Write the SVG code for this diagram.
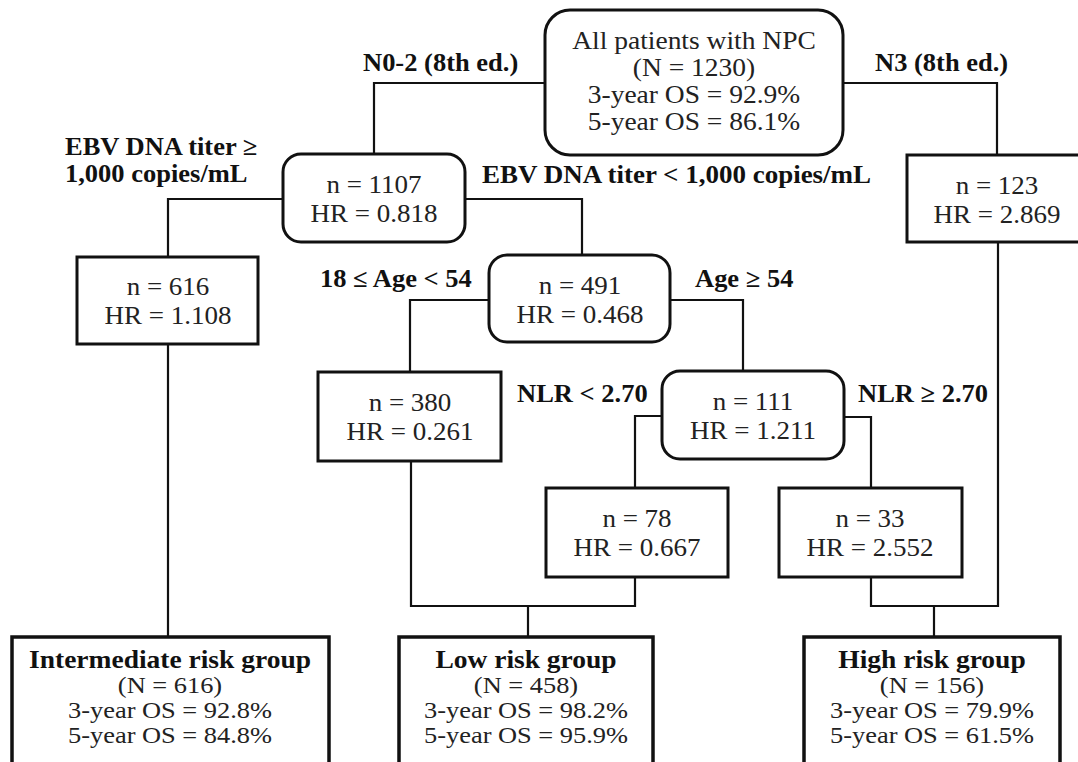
<svg xmlns="http://www.w3.org/2000/svg" width="1078" height="762" viewBox="0 0 1078 762">
<style>
  .bg { fill: #ffffff; }
  .box { fill: #ffffff; stroke: #111111; stroke-width: 3; }
  .grp { fill: #ffffff; stroke: #111111; stroke-width: 3.5; }
  .conn { fill: none; stroke: #111111; stroke-width: 2.2; stroke-linejoin: miter; }
  .t { font-family: "Liberation Serif", "Times New Roman", serif; font-size: 25px; fill: #222222; text-anchor: middle; }
  .ts { font-family: "Liberation Serif", "Times New Roman", serif; font-size: 24px; fill: #222222; text-anchor: middle; }
  .tb { font-family: "Liberation Serif", "Times New Roman", serif; font-size: 25px; font-weight: bold; fill: #111111; text-anchor: middle; }
  .lbl { font-family: "Liberation Serif", "Times New Roman", serif; font-size: 25px; font-weight: bold; fill: #111111; }
</style>
<rect class="bg" x="0" y="0" width="1078" height="762"/>

<g id="connectors">
  <path class="conn" d="M545,83 H374 V154"/>
  <path class="conn" d="M843,83 H997 V155"/>
  <path class="conn" d="M283,199 H168 V257"/>
  <path class="conn" d="M465,199 H582 V255"/>
  <path class="conn" d="M168,344 V637"/>
  <path class="conn" d="M489,300 H410 V372"/>
  <path class="conn" d="M670,300 H743 V371"/>
  <path class="conn" d="M662,416 H635 V488"/>
  <path class="conn" d="M844,417 H871 V488"/>
  <path class="conn" d="M411,461 V606 H635 V577"/>
  <path class="conn" d="M528,606 V637"/>
  <path class="conn" d="M871,577 V606 H998 V242"/>
  <path class="conn" d="M934,606 V637"/>
</g>

<g id="edge-labels">
  <text class="lbl" transform="translate(363 71) scale(1.06 1)">N0-2 (8th ed.)</text>
  <text class="lbl" transform="translate(875 71) scale(1.06 1)">N3 (8th ed.)</text>
  <text class="lbl" transform="translate(65 155) scale(1.06 1)">EBV DNA titer ≥</text>
  <text class="lbl" transform="translate(65 182) scale(1.06 1)">1,000 copies/mL</text>
  <text class="lbl" transform="translate(482 183) scale(1.08 1)">EBV DNA titer &lt; 1,000 copies/mL</text>
  <text class="lbl" transform="translate(320 287) scale(1.06 1)">18 ≤ Age &lt; 54</text>
  <text class="lbl" transform="translate(695 287) scale(1.06 1)">Age ≥ 54</text>
  <text class="lbl" transform="translate(517 402) scale(1.06 1)">NLR &lt; 2.70</text>
  <text class="lbl" transform="translate(858 402) scale(1.06 1)">NLR ≥ 2.70</text>
</g>

<g id="node-all">
  <rect class="box" x="545" y="10" width="298" height="145" rx="25"/>
  <g transform="translate(694 0) scale(1.1 1)">
    <text class="t" x="0" y="49">All patients with NPC</text>
    <text class="t" x="0" y="76">(N = 1230)</text>
    <text class="t" x="0" y="103">3-year OS = 92.9%</text>
    <text class="t" x="0" y="130">5-year OS = 86.1%</text>
  </g>
</g>

<g id="node-1107">
  <rect class="box" x="283" y="154" width="182" height="88" rx="18"/>
  <g transform="translate(374 0) scale(1.08 1)">
    <text class="t" x="0" y="193">n = 1107</text>
    <text class="t" x="0" y="222">HR = 0.818</text>
  </g>
</g>

<g id="node-123">
  <rect class="box" x="907" y="155" width="174" height="87"/>
  <g transform="translate(997 0) scale(1.08 1)">
    <text class="t" x="0" y="194">n = 123</text>
    <text class="t" x="0" y="223">HR = 2.869</text>
  </g>
</g>

<g id="node-616">
  <rect class="box" x="77" y="257" width="181" height="87"/>
  <g transform="translate(168 0) scale(1.08 1)">
    <text class="t" x="0" y="295">n = 616</text>
    <text class="t" x="0" y="324">HR = 1.108</text>
  </g>
</g>

<g id="node-491">
  <rect class="box" x="489" y="255" width="181" height="87" rx="18"/>
  <g transform="translate(580 0) scale(1.08 1)">
    <text class="t" x="0" y="294">n = 491</text>
    <text class="t" x="0" y="323">HR = 0.468</text>
  </g>
</g>

<g id="node-380">
  <rect class="box" x="318" y="372" width="183" height="89"/>
  <g transform="translate(410 0) scale(1.08 1)">
    <text class="t" x="0" y="411">n = 380</text>
    <text class="t" x="0" y="440">HR = 0.261</text>
  </g>
</g>

<g id="node-111">
  <rect class="box" x="662" y="371" width="182" height="88" rx="18"/>
  <g transform="translate(753 0) scale(1.08 1)">
    <text class="t" x="0" y="410">n = 111</text>
    <text class="t" x="0" y="439">HR = 1.211</text>
  </g>
</g>

<g id="node-78">
  <rect class="box" x="546" y="488" width="182" height="89"/>
  <g transform="translate(637 0) scale(1.08 1)">
    <text class="t" x="0" y="527">n = 78</text>
    <text class="t" x="0" y="556">HR = 0.667</text>
  </g>
</g>

<g id="node-33">
  <rect class="box" x="779" y="488" width="183" height="89"/>
  <g transform="translate(870 0) scale(1.08 1)">
    <text class="t" x="0" y="527">n = 33</text>
    <text class="t" x="0" y="556">HR = 2.552</text>
  </g>
</g>

<g id="group-intermediate">
  <rect class="grp" x="12" y="637" width="317" height="140"/>
  <g transform="translate(170 0) scale(1.1 1)">
    <text class="tb" x="0" y="668">Intermediate risk group</text>
    <text class="ts" x="0" y="693">(N = 616)</text>
    <text class="ts" x="0" y="718">3-year OS = 92.8%</text>
    <text class="ts" x="0" y="743">5-year OS = 84.8%</text>
  </g>
</g>

<g id="group-low">
  <rect class="grp" x="399" y="637" width="254" height="140"/>
  <g transform="translate(526 0) scale(1.1 1)">
    <text class="tb" x="0" y="668">Low risk group</text>
    <text class="ts" x="0" y="693">(N = 458)</text>
    <text class="ts" x="0" y="718">3-year OS = 98.2%</text>
    <text class="ts" x="0" y="743">5-year OS = 95.9%</text>
  </g>
</g>

<g id="group-high">
  <rect class="grp" x="804" y="637" width="256" height="140"/>
  <g transform="translate(932 0) scale(1.1 1)">
    <text class="tb" x="0" y="668">High risk group</text>
    <text class="ts" x="0" y="693">(N = 156)</text>
    <text class="ts" x="0" y="718">3-year OS = 79.9%</text>
    <text class="ts" x="0" y="743">5-year OS = 61.5%</text>
  </g>
</g>
</svg>
